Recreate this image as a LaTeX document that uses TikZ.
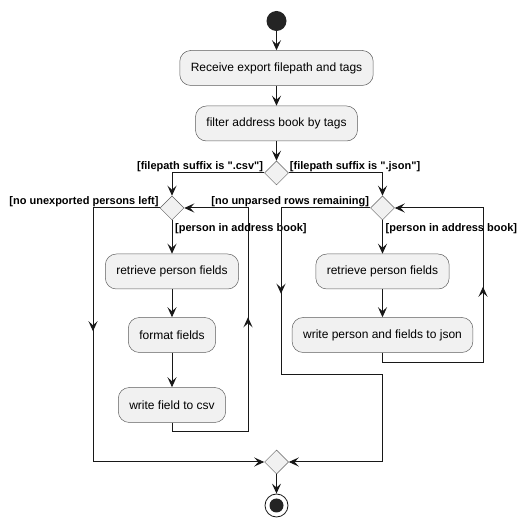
\documentclass[tikz,border=0pt]{standalone}
\usepackage{fontspec}
\setmainfont{Liberation Sans}[Ligatures=TeXOff]
\usepackage{tikz}
\usetikzlibrary{arrows.meta,shapes.geometric,positioning,decorations.markings}
\definecolor{actfill}{HTML}{F1F1F1}
\definecolor{actline}{HTML}{181818}
\def\ActHeight{35pt}
\def\BranchSize{24pt}
\tikzset{
	action/.style={draw=actline!70, line width=0.5pt, fill=actfill, rounded corners=11pt,
		minimum height=\ActHeight, inner xsep=11pt, font=\fontsize{12}{14}\selectfont},
	branch/.style={diamond, draw=actline!70, line width=0.5pt, fill=actfill,
		minimum width=\BranchSize, minimum height=\BranchSize, inner sep=0pt},
	guard/.style={font=\bfseries\fontsize{11}{13}\selectfont, inner sep=1pt},
	flowtip/.tip={Stealth[length=10pt,width=9pt,inset=4pt]},
	flow/.style={draw=actline, line width=1pt, -flowtip},
	midflow/.style={postaction={decorate},
		decoration={markings, mark=at position #1 with {\arrow{flowtip}}}},
}

\begin{document}
\begin{tikzpicture}[x=1pt,y=-1pt]
			\useasboundingbox (0,0) rectangle (528,526);
			\node[circle, fill=actline!95, minimum size=20pt, inner sep=0pt] (start) at (276.5,21) {};
			\node[action] (recv) at (276.5,68) {Receive export filepath and tags};
			\node[action] (filter) at (276.5,123.5) {filter address book by tags};
			\node[branch] (suffix) at (276.5,173) {};
			% 
			\node[branch] (csvloop) at (172,208) {};
			\node[action] (csvget) at (172,271.5) {retrieve person fields};
			\node[action] (csvfmt) at (172,335) {format fields};
			\node[action] (csvwrite) at (172,405) {write field to csv};
			% 
			\node[branch] (jsonloop) at (382.5,208) {};
			\node[action] (jsonget) at (382.5,271.5) {retrieve person fields};
			\node[action] (jsonwrite) at (382.5,335) {write person and fields to json};
			% 
			\node[branch] (merge) at (276.5,462) {};
			\node[circle, draw=actline, line width=0.8pt, fill=white, minimum size=23pt, inner sep=0pt] (stop) at (276.5,505.5) {};
			\node[circle, fill=actline!95, minimum size=14pt, inner sep=0pt] (stopdot) at (stop) {};
			% 
			\node[guard, anchor=south east] (csvguard) at (suffix.west) {[filepath suffix is ".csv"]};
			\node[guard, anchor=south west] (jsonguard) at (suffix.east) {[filepath suffix is ".json"]};
			\node[guard, anchor=south east] (csvdone) at (csvloop.west) {[no unexported persons left]};
			\node[guard, anchor=north west] (csvnext) at ([xshift=2pt,yshift=-2pt]csvloop.south) {[person in address book]};
			\node[guard, anchor=south east] (jsondone) at (jsonloop.west) {[no unparsed rows remaining]};
			\node[guard, anchor=north west] (jsonnext) at ([xshift=2pt,yshift=-2pt]jsonloop.south) {[person in address book]};
			% corners of the loops
			\coordinate (csvback) at (248,432);
			\coordinate (csvout) at (93,462);
			\coordinate (jsonback) at (483,363);
			\coordinate (jsonout) at (281,375);
			% 
			\draw[flow] (start) -- (recv);
			\draw[flow] (recv) -- (filter);
			\draw[flow] (filter) -- (suffix);
			\draw[flow] (suffix.west) -| (csvloop.north);
			\draw[flow] (suffix.east) -| (jsonloop.north);
			\draw[flow] (csvloop) -- (csvget);
			\draw[flow] (csvget) -- (csvfmt);
			\draw[flow] (csvfmt) -- (csvwrite);
			\draw[flow, midflow=200pt] (csvwrite.south) |- (csvback) |- (csvloop.east);
			\draw[flow, midflow=190pt] (csvloop.west) -| (csvout) -- (merge.west);
			\draw[flow] (jsonloop) -- (jsonget);
			\draw[flow] (jsonget) -- (jsonwrite);
			\draw[flow, midflow=187pt] (jsonwrite.south) |- (jsonback) |- (jsonloop.east);
			\draw[flow, midflow=175pt] (jsonloop.west) -| (jsonout) -- (jsonout -| jsonloop) |- (merge.east);
			\draw[flow] (merge) -- (stop);
		\end{tikzpicture}
\end{document}
